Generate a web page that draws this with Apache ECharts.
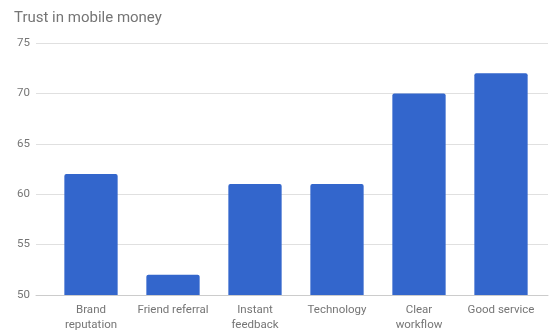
<!DOCTYPE html>
<html><head><meta charset="utf-8">
<script src="https://cdn.jsdelivr.net/npm/echarts@6/dist/echarts.min.js"></script>
<style>html,body{margin:0;padding:0;background:#fff}#c{width:553px;height:334px}</style>
</head><body><div id="c"></div>
<script>
const categories = ["Brand\nreputation", "Friend referral", "Instant\nfeedback", "Technology", "Clear\nworkflow", "Good service"];
const values = [62, 52, 61, 61, 70, 72];
const yTicks = {min: 50, max: 75, interval: 5};

const labelFont = {fontFamily: 'Roboto', fontSize: 11.5, color: '#757575'};
const chart = echarts.init(document.getElementById('c'), null, {renderer: 'canvas'});
chart.setOption({
  animation: false,
  backgroundColor: '#ffffff',
  title: {
    text: 'Trust in mobile money', left: 9, top: 6,
    textStyle: {fontFamily: 'Roboto', fontSize: 15, fontWeight: 'normal', color: '#757575'}
  },
  grid: [
    {left: 36, right: 5, top: 43, bottom: 39},
    {left: 50, right: 11, top: 43, bottom: 39}
  ],
  xAxis: [
    {
      gridIndex: 0, type: 'category', data: [''],
      axisLine: {show: true, lineStyle: {color: '#cccccc'}},
      axisTick: {show: false}, axisLabel: {show: false}
    },
    {
      gridIndex: 1, type: 'category', data: categories,
      axisLine: {show: false},
      axisTick: {show: false},
      axisLabel: Object.assign({margin: 8, lineHeight: 15, interval: 0}, labelFont)
    }
  ],
  yAxis: [
    {
      gridIndex: 0, type: 'value', min: yTicks.min, max: yTicks.max, interval: yTicks.interval,
      axisLine: {show: false}, axisTick: {show: false},
      splitLine: {lineStyle: {color: '#e0e0e0'}},
      axisLabel: Object.assign({margin: 6}, labelFont)
    },
    {
      gridIndex: 1, type: 'value', min: yTicks.min, max: yTicks.max, interval: yTicks.interval,
      show: false
    }
  ],
  series: [{
    type: 'bar', data: values, barWidth: '65%', xAxisIndex: 1, yAxisIndex: 1,
    itemStyle: {color: '#3366cc', borderRadius: [2, 2, 0, 0]}
  }]
});
</script></body></html>
